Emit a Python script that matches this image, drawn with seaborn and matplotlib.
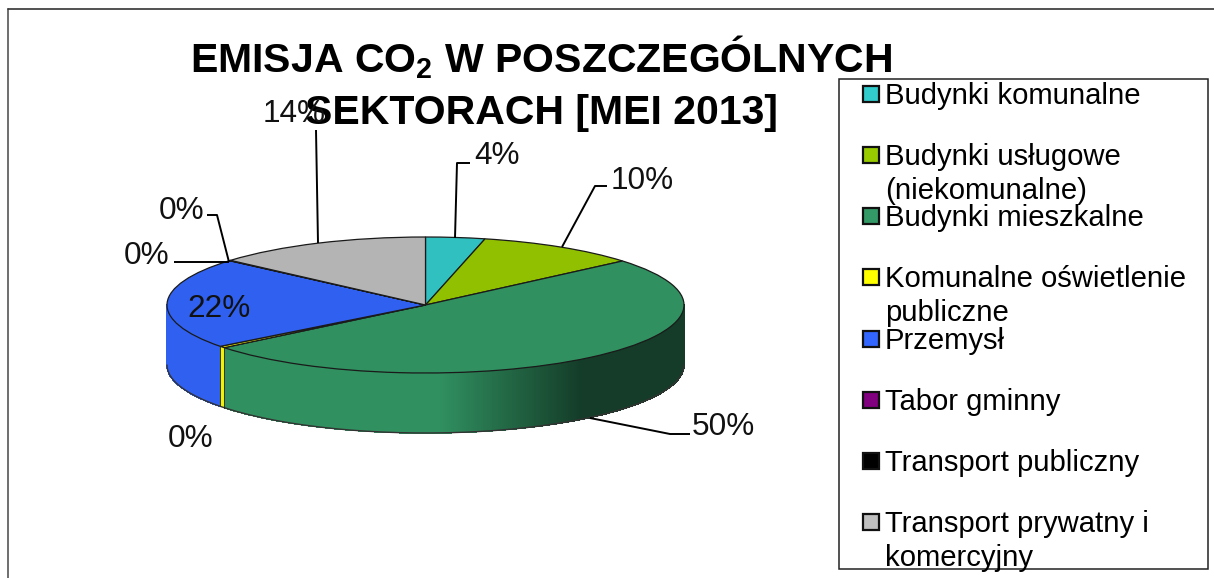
import numpy as np
import matplotlib
matplotlib.use("Agg")
import matplotlib.pyplot as plt
from matplotlib.patches import Rectangle
from matplotlib.collections import PolyCollection
import seaborn as sns

categories = ["Budynki komunalne", "Budynki usługowe\n(niekomunalne)", "Budynki mieszkalne",
              "Komunalne oświetlenie\npubliczne", "Przemysł", "Tabor gminny",
              "Transport publiczny", "Transport prywatny i\nkomercyjny"]
values = [3.7, 10.1, 50.4, 0.4, 21.7, 0.05, 0.05, 13.6]
colors = ["#33CCCC", "#99CC00", "#339966", "#FFFF00", "#3366FF", "#800080", "#000000", "#C0C0C0"]

sns.set_theme(style="white")
plt.rcParams["font.family"] = ["Liberation Sans", "DejaVu Sans"]
plt.rcParams["mathtext.fontset"] = "custom"
plt.rcParams["mathtext.bf"] = "Liberation Sans:bold"
plt.rcParams["mathtext.rm"] = "Liberation Sans"

W, H = 1214, 578
palette = sns.color_palette(colors)
fig = plt.figure(figsize=(W / 100, H / 100), dpi=100, facecolor="white")

# pixel overlay for frame, title, legend and annotations
ov = fig.add_axes([0, 0, 1, 1], zorder=3)
ov.set_xlim(0, W); ov.set_ylim(H, 0); ov.axis("off"); ov.patch.set_alpha(0)

# pie axes: unit circle squeezed into the ellipse of the pie's top face
cx, cy, rx, ry, depth = 425.5, 305, 258.5, 68, 60
pie_ax = fig.add_axes([(cx - rx) / W, 1 - (cy + ry) / H, 2 * rx / W, 2 * ry / H], zorder=2)
top = [tuple(0.94 * c for c in p) for p in palette]
pie_ax.pie(values, colors=top, startangle=90, counterclock=False, radius=1,
           wedgeprops=dict(edgecolor="#1a1a1a", linewidth=0.9))
pie_ax.set_aspect("auto")
pie_ax.set_xlim(-1, 1); pie_ax.set_ylim(-1, 1)
for p in pie_ax.patches:
    p.set_clip_on(False)
    p.set_zorder(5)

# side wall built from the same values
d = depth / ry
edges = np.cumsum([0] + values) / sum(values) * 2 * np.pi
lo, hi = np.pi / 2, 3 * np.pi / 2
polys, face, thin_polys, thin_face = [], [], [], []
for i, col in enumerate(top):
    a0, a1 = np.clip([edges[i], edges[i + 1]], lo, hi)
    if a1 <= a0:
        continue
    th = np.linspace(a0, a1, max(2, int((a1 - a0) * 120)))
    for a, b in zip(th[:-1], th[1:]):
        xa, xb = np.sin(a), np.sin(b)
        ya, yb = np.cos(a), np.cos(b)
        xm = (xa + xb) / 2
        s = 1.0 - 0.58 * np.clip((xm - 0.05) / 0.55, 0, 1)
        target = (thin_polys, thin_face) if values[i] < 1 else (polys, face)
        target[0].append([(xa, ya), (xb, yb), (xb, yb - d), (xa, ya - d)])
        target[1].append(tuple(c * s for c in col))
pie_ax.add_collection(PolyCollection(polys, facecolors=face, edgecolors=face, linewidths=0.5,
                                     antialiaseds=False, zorder=1, clip_on=False))
pie_ax.add_collection(PolyCollection(thin_polys, facecolors=thin_face, edgecolors=thin_face, linewidths=0.2,
                                     zorder=1.5, clip_on=False))
t = np.linspace(lo, hi, 200)
pie_ax.plot(np.sin(t), np.cos(t) - d, color="#333333", lw=1.0, zorder=2, clip_on=False)
# boundaries of the yellow wall strip
for e in edges[3:5]:
    pie_ax.plot([np.sin(e)] * 2, [np.cos(e), np.cos(e) - d], color="#222222", lw=0.6, zorder=2, clip_on=False)
pie_ax.axis("off")

# outer frame and legend box
ov.plot([8, 8], [H, 9], color="#555555", lw=1.2)
ov.plot([8, W], [9, 9], color="#333333", lw=1.2)
ov.add_patch(Rectangle((838.5, 79), 369.5, 490, fc="white", ec="#222222", lw=1.1))

# title
tkw = dict(ha="center", va="baseline", fontsize=29.5, fontweight="bold", color="black")
ov.text(541, 72, r"EMISJA CO$\mathbf{_2}$ W POSZCZEGÓLNYCH", **tkw)
ov.text(541, 124, "SEKTORACH [MEI 2013]", **tkw)

# legend
ly = [94, 155, 216, 277, 339, 400, 461, 522]
for y, name, col in zip(ly, categories, palette):
    ov.add_patch(Rectangle((863, y - 8), 16, 16, fc=col, ec="#111111", lw=1.6))
    for k, part in enumerate(name.split("\n")):
        ov.text(885, y + 10 + 34 * k, part, fontsize=21.1, color="black", va="baseline", ha="left")

# data labels
labels = [f"{round(v)}%" for v in values]
lab_xy = [(497, 164), (642, 189), (723, 435), (191, 447), (219, 317), (147, 264), (182, 219), (294, 122)]
for (x, y), s in zip(lab_xy, labels):
    ov.text(x, y, s, fontsize=22.7, ha="center", va="baseline", color="#111111")

# leader lines
leaders = [[(455, 238), (457, 163), (470, 163)],
           [(562, 247), (595, 186), (607, 186)],
           [(590, 418), (670, 434), (690, 434)],
           [(174, 262), (229, 262)],
           [(229, 262), (217, 215), (207, 215)],
           [(318, 243), (316, 130)]]
for ln in leaders:
    xs, ys = zip(*ln)
    ov.plot(xs, ys, color="black", lw=1.4, solid_capstyle="butt", zorder=6)

fig.savefig("out.png", dpi=100)
